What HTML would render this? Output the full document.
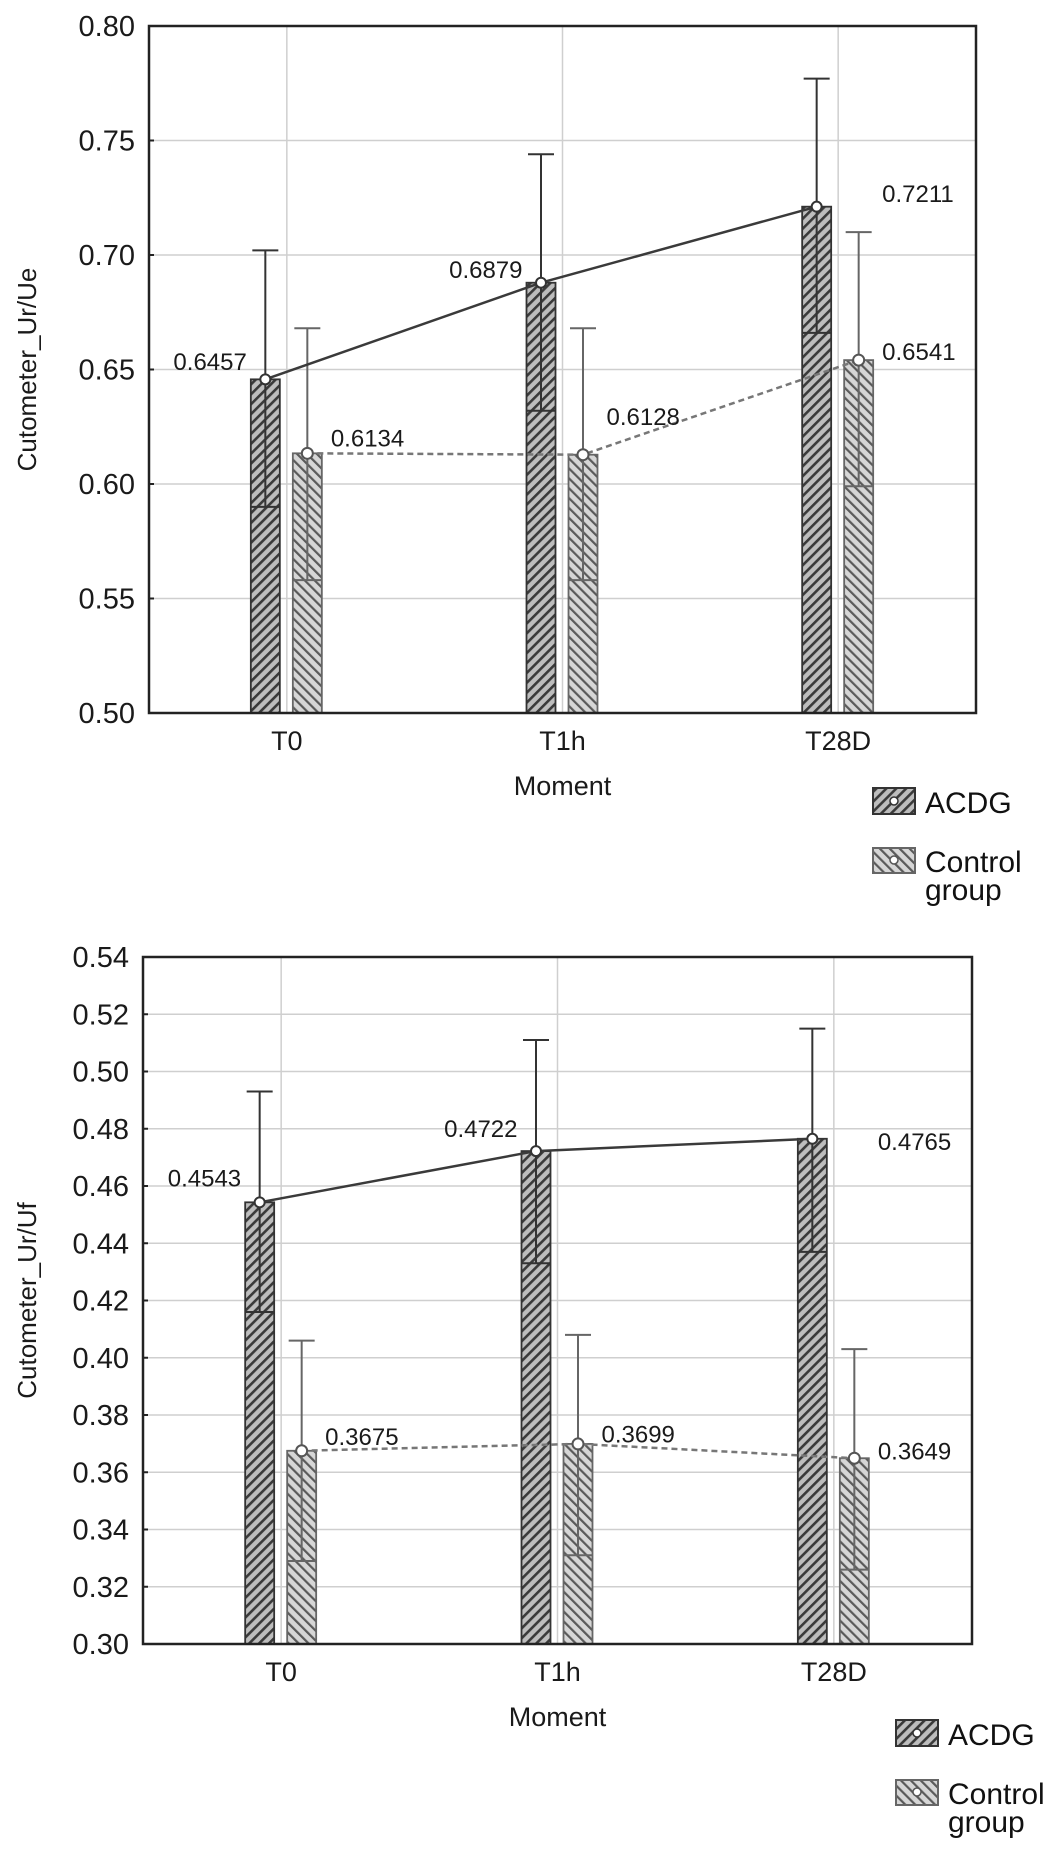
<!DOCTYPE html>
<html><head><meta charset="utf-8">
<style>
html,body{margin:0;padding:0;background:#fff;}
svg{display:block;font-family:"Liberation Sans",Arial,sans-serif;}
</style></head>
<body>
<svg id="root" width="1063" height="1851" viewBox="0 0 1063 1851">
<defs>
<pattern id="hatchA" patternUnits="userSpaceOnUse" width="7" height="7" patternTransform="rotate(45)">
<rect width="7" height="7" fill="#bdbdbd"/><rect width="2.6" height="7" fill="#3a3a3a"/>
</pattern>
<pattern id="hatchC" patternUnits="userSpaceOnUse" width="7" height="7" patternTransform="rotate(-45)">
<rect width="7" height="7" fill="#d6d6d6"/><rect width="2.2" height="7" fill="#5a5a5a"/>
</pattern>
</defs>
</svg>
<script>
// ---- Chart 1 data (Ur/Ue) ----
const categories = ["T0","T1h","T28D"];
const c1Acdg = [0.6457,0.6879,0.7211];
const c1AcdgUp = [0.702,0.744,0.777];
const c1AcdgLo = [0.590,0.632,0.666];
const c1Ctrl = [0.6134,0.6128,0.6541];
const c1CtrlUp = [0.668,0.668,0.710];
const c1CtrlLo = [0.558,0.558,0.599];
const c1Ticks = ["0.50","0.55","0.60","0.65","0.70","0.75","0.80"];
// ---- Chart 2 data (Ur/Uf) ----
const c2Acdg = [0.4543,0.4722,0.4765];
const c2AcdgUp = [0.493,0.511,0.515];
const c2AcdgLo = [0.416,0.433,0.437];
const c2Ctrl = [0.3675,0.3699,0.3649];
const c2CtrlUp = [0.406,0.408,0.403];
const c2CtrlLo = [0.329,0.331,0.326];
const c2Ticks = ["0.30","0.32","0.34","0.36","0.38","0.40","0.42","0.44","0.46","0.48","0.50","0.52","0.54"];

const NS="http://www.w3.org/2000/svg";
const root=document.getElementById('root');
function mk(tag,attrs,parent,text){
  const e=document.createElementNS(NS,tag);
  for(const k in attrs)e.setAttribute(k,attrs[k]);
  if(text!==undefined)e.textContent=text;
  (parent||root).appendChild(e);return e;
}

function drawChart(cfg){
  const g=mk('g',{});
  
  
  const L=cfg.left,R=cfg.right,T=cfg.top,B=cfg.bottom;
  const ymin=parseFloat(cfg.ticks[0]),ymax=parseFloat(cfg.ticks[cfg.ticks.length-1]);
  const y=v=>B-(v-ymin)/(ymax-ymin)*(B-T);
  const x=i=>L+(R-L)*(2*i+1)/(2*categories.length);
  // grid
  cfg.ticks.forEach(t=>{
    const yy=y(parseFloat(t));
    const gl=mk('line',{x1:L,x2:R,y1:yy,y2:yy,stroke:'#cfcfcf','stroke-width':1.5},g);
    
    
    const tl=mk('text',{x:L-14,y:yy+10,'text-anchor':'end','font-size':29,fill:'#1a1a1a'},g,t);
    
    
    mk('line',{x1:L,x2:L+5,y1:yy,y2:yy,stroke:'#222','stroke-width':2},g);
  });
  categories.forEach((c,i)=>{
    const xx=x(i);
    const gl=mk('line',{x1:xx,x2:xx,y1:T,y2:B,stroke:'#cfcfcf','stroke-width':1.5},g);
    
    
    const tl=mk('text',{x:xx,y:B+37,'text-anchor':'middle','font-size':27,fill:'#1a1a1a'},g,c);
    
    
  });
  // bars
  const series=[
    {v:cfg.acdg,up:cfg.acdgUp,lo:cfg.acdgLo,off:-36,fill:'url(#hatchA)',stroke:'#333',name:'acdg'},
    {v:cfg.ctrl,up:cfg.ctrlUp,lo:cfg.ctrlLo,off:6,fill:'url(#hatchC)',stroke:'#666',name:'control'}
  ];
  const bw=29;
  series.forEach(s=>{
    s.v.forEach((v,i)=>{
      const bx=x(i)+s.off;
      const b=mk('rect',{x:bx,y:y(v),width:bw,height:B-y(v),fill:s.fill,stroke:s.stroke,'stroke-width':1.8},g);
      
      
      const cx=bx+bw/2;
      const eb=mk('path',{d:`M${cx-13},${y(s.up[i])}H${cx+13}M${cx},${y(s.up[i])}V${y(s.lo[i])}M${bx},${y(s.lo[i])}H${bx+bw}`,stroke:s.name==='acdg'?'#333':'#666',fill:'none','stroke-width':2},g);
      
      
    });
  });
  // lines
  const lp=i=>x(i)-36+bw/2, cp=i=>x(i)+6+bw/2;
  const la=mk('polyline',{points:cfg.acdg.map((v,i)=>lp(i)+','+y(v)).join(' '),fill:'none',stroke:'#3a3a3a','stroke-width':2.5},g);
  
  
  const lc=mk('polyline',{points:cfg.ctrl.map((v,i)=>cp(i)+','+y(v)).join(' '),fill:'none',stroke:'#777','stroke-width':2.5,'stroke-dasharray':'6,4'},g);
  
  
  cfg.acdg.forEach((v,i)=>{
    const p=mk('circle',{cx:lp(i),cy:y(v),r:5,fill:'#fff',stroke:'#333','stroke-width':2},g);
    
    
  });
  cfg.ctrl.forEach((v,i)=>{
    const p=mk('circle',{cx:cp(i),cy:y(v),r:5.5,fill:'#fff',stroke:'#555','stroke-width':2},g);
    
    
  });
  // value labels
  cfg.acdg.forEach((v,i)=>{
    const pos=cfg.acdgLab[i];
    const t=mk('text',{x:pos[0]==='L'?x(i)-40:x(i)+44,y:y(v+pos[1]),'text-anchor':pos[0]==='L'?'end':'start','font-size':24,fill:'#1a1a1a'},g,v.toFixed(4));
    
    
  });
  cfg.ctrl.forEach((v,i)=>{
    const t=mk('text',{x:x(i)+44,y:y(v+cfg.ctrlLab[i]),'text-anchor':'start','font-size':24,fill:'#1a1a1a'},g,v.toFixed(4));
    
    
  });
  // frame
  const fr=mk('rect',{x:L,y:T,width:R-L,height:B-T,fill:'none',stroke:'#222','stroke-width':2.5},g);
  
  
  // titles
  const yt=mk('text',{x:0,y:0,'text-anchor':'middle','font-size':26,fill:'#1a1a1a',transform:`translate(36,${(T+B)/2}) rotate(-90)`},g,cfg.yTitle);
  
  
  const xt=mk('text',{x:(L+R)/2,y:B+82,'text-anchor':'middle','font-size':27,fill:'#1a1a1a'},g,'Moment');
  
  
  // legend
  const lg=mk('g',{},g);
  
  
  const lx=cfg.legX, ly=cfg.legY;
  const e1=mk('rect',{x:lx,y:ly,width:42,height:26,fill:'url(#hatchA)',stroke:'#333','stroke-width':2},lg);
  
  
  mk('circle',{cx:lx+21,cy:ly+13,r:4,fill:'#fff',stroke:'#333','stroke-width':1.5},lg);
  const t1=mk('text',{x:lx+52,y:ly+25,'font-size':30,fill:'#111'},lg,'ACDG');
  
  
  const e2=mk('rect',{x:lx,y:ly+60,width:42,height:25,fill:'url(#hatchC)',stroke:'#666','stroke-width':2},lg);
  
  
  mk('circle',{cx:lx+21,cy:ly+72,r:4,fill:'#fff',stroke:'#555','stroke-width':1.5},lg);
  const t2=mk('text',{x:lx+52,y:ly+84,'font-size':30,fill:'#111'},lg,'Control');
  
  
  mk('text',{x:lx+52,y:ly+112,'font-size':30,fill:'#111'},lg,'group');
}

drawChart({name:'chart-ur-ue',left:149,right:976,top:26,bottom:713,ticks:c1Ticks,
  acdg:c1Acdg,acdgUp:c1AcdgUp,acdgLo:c1AcdgLo,ctrl:c1Ctrl,ctrlUp:c1CtrlUp,ctrlLo:c1CtrlLo,
  acdgLab:[['L',0.004],['L',0.002],['R',0.002]],ctrlLab:[0.003,0.013,0.0],
  yTitle:'Cutometer_Ur/Ue',legX:873,legY:788});
drawChart({name:'chart-ur-uf',left:143,right:972,top:957,bottom:1644,ticks:c2Ticks,
  acdgLab:[['L',0.0055],['L',0.005],['R',-0.004]],ctrlLab:[0.002,0.0005,-0.0005],
  acdg:c2Acdg,acdgUp:c2AcdgUp,acdgLo:c2AcdgLo,ctrl:c2Ctrl,ctrlUp:c2CtrlUp,ctrlLo:c2CtrlLo,
  yTitle:'Cutometer_Ur/Uf',legX:896,legY:1720});
</script>
</body></html>
